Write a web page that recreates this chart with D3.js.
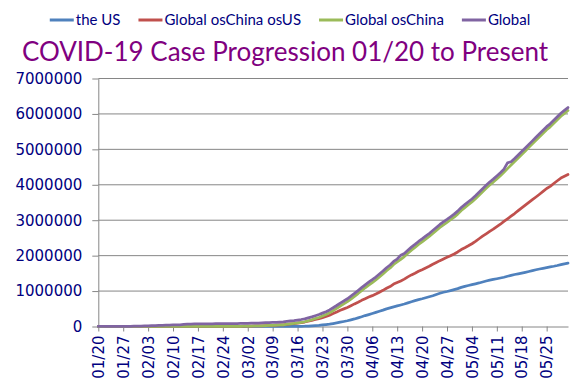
<!DOCTYPE html>
<html>
<head>
<meta charset="utf-8">
<script src="https://cdn.jsdelivr.net/npm/d3@7"></script>
<style>
    body { margin: 0; background: #fff; }
    svg { display: block; }
</style>
</head>
<body>
<script>
// confirmed cases in thousands, one value a day from 01/20 to 05/31
var theUS = [
    0, 0, 0, 0, 0, 0, 0, 0, 0, 0, 0, 0,
    0, 0, 0, 0, 0, 0, 0, 0, 0, 0, 0, 0, 0, 0, 0, 0, 0, 0, 0, 0, 0, 0, 0, 0, 0, 0, 0, 0, 0,
    0, 0.1, 0.1, 0.2, 0.2, 0.3, 0.4, 0.6, 0.7, 1, 1.3, 1.7, 2.2, 2.9, 3.5, 4.6, 6.4, 7.8, 14, 19, 26, 33, 44, 54, 66, 84, 102, 122, 141, 162, 188,
    213, 244, 275, 309, 337, 367, 397, 429, 461, 497, 526, 555, 581, 608, 636, 668, 700, 732, 759, 784, 812, 840, 869, 905, 938, 966, 988, 1013, 1040, 1069,
    1104, 1133, 1158, 1180, 1204, 1229, 1257, 1284, 1310, 1329, 1348, 1369, 1390, 1418, 1443, 1468, 1487, 1508, 1529, 1552, 1577, 1601, 1623, 1643, 1662, 1681, 1700, 1722, 1747, 1770, 1790
];
var globalOsChinaOsUS = [
    0, 0, 0.1, 0.1, 0.1, 0.1, 0.1, 0.1, 0.1, 0.1, 0.1, 0.1,
    0.1, 0.2, 0.2, 0.2, 0.2, 0.3, 0.3, 0.3, 0.4, 0.4, 0.4, 0.4, 0.4, 0.5, 0.5, 0.7, 0.8, 0.8, 1, 1.1, 1.2, 1.4, 1.8, 2.1, 2.5, 3.2, 4.1, 5.1, 6.5,
    8, 9.9, 12.9, 14.8, 16.8, 20.7, 24.6, 28.4, 32.3, 37, 43.7, 45.3, 61.8, 72.1, 82.5, 96.4, 109.6, 126.2, 148, 172, 198, 222, 252, 282, 320, 364, 409, 457, 497, 538, 587,
    638, 686, 738, 784, 830, 871, 916, 968, 1021, 1078, 1127, 1197, 1241, 1285, 1337, 1401, 1456, 1502, 1558, 1604, 1653, 1700, 1756, 1807, 1859, 1905, 1952, 2000, 2048, 2104,
    2172, 2223, 2278, 2336, 2402, 2477, 2549, 2617, 2686, 2747, 2818, 2887, 2966, 3038, 3113, 3188, 3269, 3348, 3427, 3504, 3579, 3655, 3733, 3813, 3894, 3955, 4036, 4114, 4189, 4240, 4290
];
var globalOsChina = [
    0, 0, 0.1, 0.1, 0.1, 0.1, 0.1, 0.1, 0.1, 0.1, 0.1, 0.1,
    0.1, 0.2, 0.2, 0.2, 0.2, 0.3, 0.3, 0.3, 0.4, 0.4, 0.4, 0.4, 0.4, 0.5, 0.5, 0.7, 0.8, 0.8, 1, 1.1, 1.2, 1.4, 1.8, 2.1, 2.6, 3.2, 4.2, 5.2, 6.6,
    8, 10, 13, 15, 17, 21, 25, 29, 33, 38, 45, 47, 64, 75, 86, 101, 116, 134, 162, 191, 224, 255, 296, 336, 386, 448, 511, 579, 638, 700, 775,
    851, 930, 1013, 1093, 1167, 1238, 1313, 1397, 1482, 1575, 1653, 1752, 1822, 1893, 1973, 2069, 2156, 2234, 2317, 2388, 2465, 2540, 2625, 2712, 2797, 2871, 2940, 3013, 3088, 3173,
    3276, 3356, 3436, 3516, 3606, 3706, 3806, 3901, 3996, 4076, 4166, 4256, 4356, 4456, 4556, 4656, 4756, 4856, 4956, 5056, 5156, 5256, 5356, 5456, 5556, 5636, 5736, 5836, 5936, 6016, 6096
];
var global = [
    0.3, 0.3, 0.6, 0.7, 0.9, 1.4, 2.1, 2.9, 5.6, 6.2, 8.2, 9.9,
    12, 17, 20, 24, 28, 31, 34, 37, 40, 43, 45, 45, 60, 67, 69, 71, 73, 75, 76, 76, 77, 79, 79, 80, 80, 81, 83, 84, 86,
    88, 90, 93, 95, 98, 102, 106, 110, 114, 119, 126, 128, 145, 156, 167, 182, 197, 215, 243, 272, 305, 337, 378, 418, 468, 530, 593, 661, 720, 782, 857,
    933, 1013, 1096, 1176, 1250, 1321, 1396, 1480, 1565, 1658, 1736, 1835, 1905, 2010, 2060, 2152, 2240, 2318, 2401, 2472, 2549, 2624, 2709, 2796, 2881, 2955, 3024, 3097, 3172, 3257,
    3360, 3440, 3520, 3600, 3690, 3790, 3890, 3985, 4080, 4160, 4250, 4340, 4440, 4620, 4650, 4740, 4840, 4940, 5040, 5140, 5240, 5340, 5440, 5540, 5640, 5720, 5820, 5920, 6020, 6100, 6180
];

var seriesNames = ["the US", "Global osChina osUS", "Global osChina", "Global"];
var seriesColors = ["#4f81bd", "#c0504d", "#9bbb59", "#8064a2"];
var xTickLabels = ["01/20", "01/27", "02/03", "02/10", "02/17", "02/24", "03/02", "03/09", "03/16",
    "03/23", "03/30", "04/06", "04/13", "04/20", "04/27", "05/04", "05/11", "05/18", "05/25"];
var yTicks = [0, 1000, 2000, 3000, 4000, 5000, 6000, 7000];
var yTickLabels = ["0", "1000000", "2000000", "3000000", "4000000", "5000000", "6000000", "7000000"];
var title = "COVID-19 Case Progression 01/20 to Present";

var W = 580, H = 389,
    plot = {left: 98.3, right: 568, top: 78.5, bottom: 326.5},
    gridColor = "#868686",
    labelColor = "#000080";

var svg = d3.select("body").append("svg")
    .attr("width", W)
    .attr("height", H);

var days = d3.timeDay.range(new Date(2020, 0, 20), new Date(2020, 5, 1)).map(d3.timeFormat("%m/%d"));

var x = d3.scalePoint().domain(days).range([plot.left, plot.right]);
var y = d3.scaleLinear().domain([0, 7000]).range([plot.bottom, plot.top]);

// gridlines
svg.append("g")
    .selectAll("line")
    .data(yTicks.slice(1))
    .enter()
    .append("line")
    .attr("x1", plot.left)
    .attr("x2", plot.right)
    .attr("y1", function(d) { return y(d); })
    .attr("y2", function(d) { return y(d); })
    .attr("stroke", gridColor)
    .attr("stroke-width", 1);

var yAxis = svg.append("g")
    .attr("transform", "translate(" + plot.left + ",0)")
    .call(d3.axisLeft(y)
        .tickValues(yTicks)
        .tickSize(6)
        .tickSizeOuter(0)
        .tickPadding(10)
        .tickFormat(function(d, i) { return yTickLabels[i]; }));

var xAxis = svg.append("g")
    .attr("transform", "translate(0," + plot.bottom + ")")
    .call(d3.axisBottom(x)
        .tickValues(xTickLabels)
        .tickSize(5)
        .tickSizeOuter(0));

xAxis.selectAll("text")
    .attr("transform", "rotate(-90)")
    .attr("x", -9)
    .attr("y", 0)
    .attr("dy", "0.35em")
    .style("text-anchor", "end");

[xAxis, yAxis].forEach(function(a) {
    a.selectAll("path, line").attr("stroke", gridColor).attr("stroke-width", 1);
    a.selectAll("text")
        .attr("fill", labelColor)
        .style("font-family", "'DejaVu Sans', Verdana, sans-serif")
        .style("font-size", "15px");
});

// series lines
var line = d3.line()
    .x(function(d, i) { return x(days[i]); })
    .y(function(d) { return y(d); });

[theUS, globalOsChinaOsUS, globalOsChina, global].forEach(function(s, k) {
    svg.append("path")
        .datum(s)
        .attr("d", line)
        .attr("fill", "none")
        .attr("stroke", seriesColors[k])
        .attr("stroke-width", 2.75)
        .attr("stroke-linejoin", "round")
        .attr("stroke-linecap", "round");
});

// title
svg.append("text")
    .attr("x", 285)
    .attr("y", 61)
    .attr("text-anchor", "middle")
    .attr("fill", "#800080")
    .style("font-family", "Lato, sans-serif")
    .style("font-size", "26px")
    .text(title);

// legend, centred above the title
var legend = svg.append("g"),
    lx = 0;
seriesNames.forEach(function(name, k) {
    var g = legend.append("g").attr("transform", "translate(" + lx + ",0)");
    g.append("line")
        .attr("x1", 0).attr("x2", 24)
        .attr("y1", 20).attr("y2", 20)
        .attr("stroke", seriesColors[k])
        .attr("stroke-width", 3);
    var t = g.append("text")
        .attr("x", 26)
        .attr("y", 25)
        .attr("fill", labelColor)
        .style("font-family", "Lato, sans-serif")
        .style("font-size", "15px")
        .text(name);
    lx += 26 + t.node().getComputedTextLength() + 18;
});
legend.attr("transform", "translate(" + (290 - (lx - 18) / 2) + ",0)");
</script>
</body>
</html>
